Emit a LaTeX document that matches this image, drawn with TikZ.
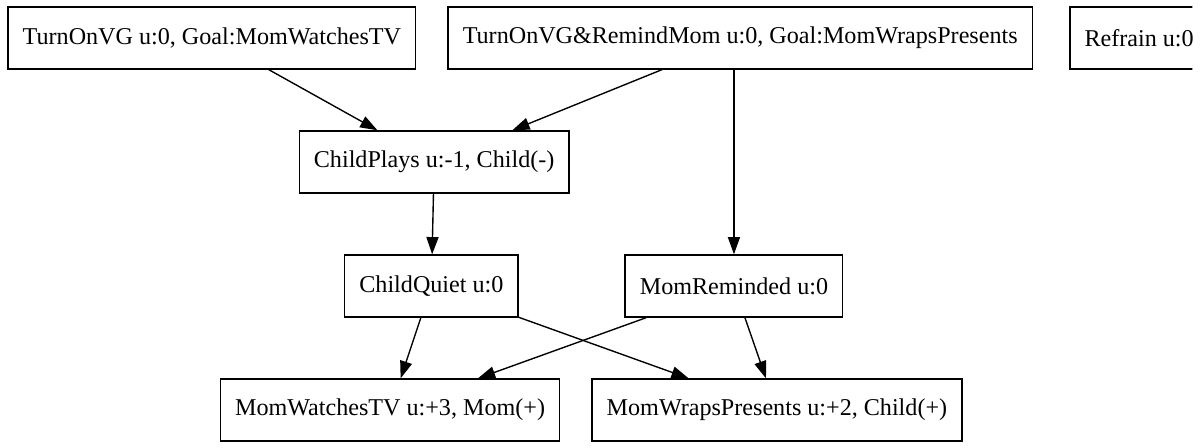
\documentclass[tikz,border=0pt]{standalone}
\usepackage{fontspec}
\setmainfont{Liberation Serif}
\usetikzlibrary{arrows.meta, positioning}

\begin{document}
\begin{tikzpicture}[
  x=1pt, y=1pt,
  node distance=36pt and 18pt,
  state/.style={rectangle, draw, line width=0.8pt, minimum width=54pt,
                minimum height=36pt, inner xsep=8.5pt, inner ysep=0pt,
                font=\fontsize{14}{16}\selectfont},
  arr/.style={-{Triangle[length=10pt, width=7pt]}, line width=0.8pt}
]
\useasboundingbox (0,0) rectangle (696.5,-260);
\clip (0,0) rectangle (692,-260);

% actions
\node[state] (vgtv) at (123,-22) {TurnOnVG u:0, Goal:MomWatchesTV};
\node[state, right=of vgtv]   (vgremind) {TurnOnVG\&RemindMom u:0, Goal:MomWrapsPresents};
\node[state, right=21pt of vgremind] (refrain) {Refrain u:0};

% intermediate states
\node[state] (plays)    at (252,-94)  {ChildPlays u:-1, Child(-)};
\node[state] (quiet)    at (250.4,-166) {ChildQuiet u:0};
\node[state] (reminded) at (426,-166) {MomReminded u:0};

% outcomes
\node[state] (watches)  at (226.4,-238) {MomWatchesTV u:+3, Mom(+)};
\node[state, right=of watches] (wraps) {MomWrapsPresents u:+2, Child(+)};

\draw[arr] (vgtv)     -- (plays);
\draw[arr] (vgremind) -- (plays);
\draw[arr] (vgremind.south -| reminded) -- (reminded);
\draw[arr] (plays)    -- (quiet);
\draw[arr] (quiet)    -- (watches);
\draw[arr] (quiet)    -- (wraps);
\draw[arr] (reminded) -- (watches);
\draw[arr] (reminded) -- (wraps);
\end{tikzpicture}
\end{document}
